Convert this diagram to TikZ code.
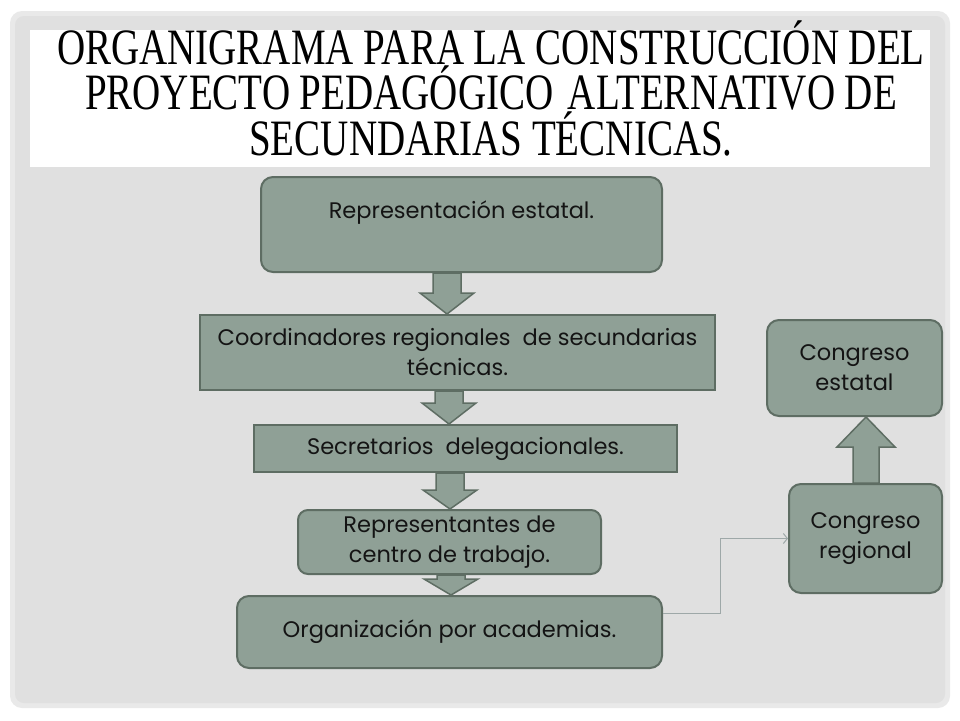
\documentclass[tikz,border=0pt]{standalone}
\usepackage{fontspec}
\setmainfont{Poppins}
\newfontfamily\ttlserif{Liberation Serif}
\usetikzlibrary{arrows.meta,calc}
\definecolor{boxfill}{HTML}{8FA096}
\definecolor{boxline}{HTML}{5E6D63}
\definecolor{panel}{HTML}{E0E0E0}
\definecolor{panelrim}{HTML}{E9E9E9}
\definecolor{conn}{HTML}{9EA8A8}
\pgfdeclarelayer{back}
\pgfdeclarelayer{mid}
\pgfsetlayers{back,mid,main}
\newcommand\downblock[4]{%
  \path[blockarrow] let \p1=(#2.south), \p2=(#3.north) in
    ({#1pt-14pt},\y1) -- ({#1pt+14pt},\y1) -- ({#1pt+14pt},\y2+#4pt) -- ({#1pt+27pt},\y2+#4pt)
    -- ({#1pt},\y2) -- ({#1pt-27pt},\y2+#4pt) -- ({#1pt-14pt},\y2+#4pt) -- cycle;}
\newcommand\upblock[4]{%
  \path[blockarrow] let \p1=(#2.north), \p2=(#3.south) in
    ({#1pt-13pt},\y1) -- ({#1pt+13pt},\y1) -- ({#1pt+13pt},\y2-#4pt) -- ({#1pt+29pt},\y2-#4pt)
    -- ({#1pt},\y2) -- ({#1pt-29pt},\y2-#4pt) -- ({#1pt-13pt},\y2-#4pt) -- cycle;}
\begin{document}
\begin{tikzpicture}[x=1pt,y=-1pt,
  box/.style={draw=boxline, line width=2pt, fill=boxfill, text=black!92,
    font=\fontsize{22.5}{30}\selectfont, align=center, inner sep=0pt},
  rbox/.style={box, rounded corners=12pt},
  blockarrow/.style={draw=boxline, line width=1.5pt, fill=boxfill, line join=miter},
  titlebox/.style={anchor=base, font=\ttlserif\fontsize{51}{44}\selectfont, text=black,
    align=center, transform shape, xscale=0.765, inner sep=0pt},
  connline/.style={draw=conn, line width=1pt, -{Straight Barb[length=4pt,width=10pt]}}]
\useasboundingbox (0,0) rectangle (960,720);
\begin{pgfonlayer}{back}
  \fill[white] (0,0) rectangle (960,720);
  \fill[panelrim, rounded corners=12pt] (10,11) rectangle (950,708);
  \fill[panel, rounded corners=9pt] (15,16) rectangle (945,703);
  \fill[white] (30,30) rectangle (930,167);
\end{pgfonlayer}
\node[titlebox] (title) at (491,155) {ORGANIGRAMA PARA LA CONSTRUCCIÓN DEL\\PROYECTO PEDAGÓGICO\hspace{6pt} ALTERNATIVO DE\\SECUNDARIAS TÉCNICAS.};

\node[rbox, minimum width=401pt, minimum height=95pt] (b1) at (461.5,224.5) {Representación estatal.\\[0pt]\mbox{}};
\node[box, minimum width=515pt, minimum height=75pt] (b2) at (457.5,352.5) {Coordinadores regionales\ \ de secundarias\\técnicas.};
\node[box, minimum width=423pt, minimum height=47pt] (b3) at (465.5,448.5) {Secretarios\ \ delegacionales.};
\node[rbox, rounded corners=10pt, minimum width=303pt, minimum height=64pt] (b4) at (449.5,542) {Representantes de\\centro de trabajo.};
\node[rbox, minimum width=425pt, minimum height=72pt] (b5) at (449.5,632) {Organización por academias.};
\node[rbox, minimum width=175pt, minimum height=96pt] (cest) at (854.5,368) {Congreso\\estatal};
\node[rbox, minimum width=153pt, minimum height=109pt] (creg) at (865.5,538.5) {Congreso\\regional};

\begin{pgfonlayer}{mid}
  \downblock{447}{b1}{b2}{21}
  \downblock{449}{b2}{b3}{21}
  \downblock{450}{b3}{b4}{19}
  \downblock{451}{b4}{b5}{16}
  \upblock{866}{creg}{cest}{30}
\end{pgfonlayer}

\coordinate (cs) at ($(b5.north east)!0.25!(b5.south east)$);
\draw[connline] (cs) -- ++(57,0) |- (creg.west);
\end{tikzpicture}
\end{document}
